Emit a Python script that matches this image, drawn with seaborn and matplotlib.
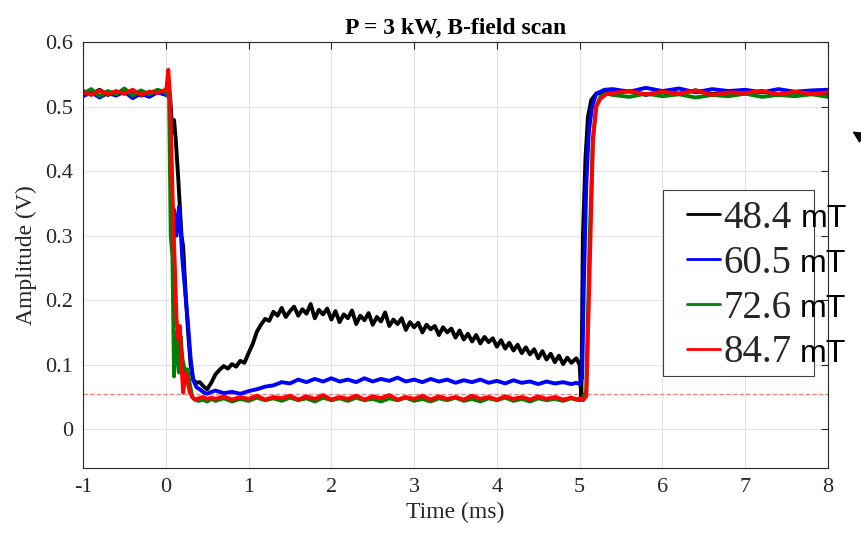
import matplotlib
matplotlib.use('Agg')
import pandas as pd
import matplotlib.pyplot as plt
from matplotlib.patches import Rectangle
from matplotlib.transforms import IdentityTransform
import seaborn as sns

# B-field values (mT) and colours
fields = ['48.4', '60.5', '72.6', '84.7']
colors = ['#000000', '#0000ff', '#008000', '#ff0000']

# shared time grids (ms)
t_pre = [-1.0, -0.9, -0.8, -0.7, -0.6, -0.5, -0.4, -0.3, -0.2, -0.1, 0.0]
t_mid = [0.6, 0.7, 0.8, 0.9, 1.0, 1.1, 1.2, 1.3, 1.4, 1.5, 1.6, 1.7, 1.8, 1.9,
         2.0, 2.1, 2.2, 2.3, 2.4, 2.5, 2.6, 2.7, 2.8, 2.9, 3.0, 3.1, 3.2, 3.3,
         3.4, 3.5, 3.6, 3.7, 3.8, 3.9, 4.0, 4.1, 4.2, 4.3, 4.4, 4.5, 4.6, 4.7,
         4.8, 4.9]
t_post = [5.4, 5.6, 5.8, 6.0, 6.2, 6.4, 6.6, 6.8, 7.0, 7.2, 7.4, 7.6, 7.8, 8.0]

# 48.4 mT
black_pre = [0.524, 0.519, 0.526, 0.518, 0.523, 0.520, 0.525, 0.517, 0.522, 0.524, 0.521]
black_t_drop = [0.05, 0.08, 0.10, 0.12, 0.15, 0.17, 0.19, 0.21, 0.24, 0.27, 0.30,
                0.33, 0.37, 0.41, 0.46, 0.50, 0.55]
black_drop = [0.52, 0.46, 0.479, 0.45, 0.39, 0.345, 0.30, 0.283, 0.21, 0.15, 0.10,
              0.077, 0.072, 0.073, 0.066, 0.062, 0.072]
black_t_mid = [0.60, 0.65, 0.70, 0.75, 0.80, 0.85, 0.90, 0.95, 1.00, 1.05, 1.10,
               1.15, 1.20, 1.25, 1.30, 1.35, 1.40, 1.45, 1.50, 1.55, 1.60, 1.65,
               1.70, 1.75, 1.80, 1.85, 1.90, 1.95, 2.00, 2.05, 2.10, 2.15, 2.20,
               2.25, 2.30, 2.35, 2.40, 2.45, 2.50, 2.55, 2.60, 2.65, 2.70, 2.75,
               2.80, 2.85, 2.90, 2.95, 3.00, 3.05, 3.10, 3.15, 3.20, 3.25, 3.30,
               3.35, 3.40, 3.45, 3.50, 3.55, 3.60, 3.65, 3.70, 3.75, 3.80, 3.85,
               3.90, 3.95, 4.00, 4.05, 4.10, 4.15, 4.20, 4.25, 4.30, 4.35, 4.40,
               4.45, 4.50, 4.55, 4.60, 4.65, 4.70, 4.75, 4.80, 4.85, 4.90]
black_mid = [0.085, 0.092, 0.098, 0.094, 0.101, 0.097, 0.106, 0.103, 0.118, 0.132, 0.151,
             0.162, 0.171, 0.168, 0.182, 0.176, 0.188, 0.174, 0.183, 0.190, 0.176, 0.186,
             0.179, 0.194, 0.172, 0.185, 0.178, 0.187, 0.170, 0.183, 0.166, 0.178, 0.172,
             0.184, 0.163, 0.176, 0.169, 0.180, 0.162, 0.174, 0.167, 0.181, 0.160, 0.170,
             0.163, 0.172, 0.154, 0.166, 0.158, 0.165, 0.150, 0.162, 0.155, 0.160, 0.146,
             0.158, 0.150, 0.156, 0.142, 0.153, 0.139, 0.148, 0.136, 0.146, 0.133, 0.143,
             0.135, 0.141, 0.128, 0.138, 0.125, 0.134, 0.122, 0.131, 0.118, 0.127, 0.116,
             0.124, 0.110, 0.121, 0.108, 0.117, 0.104, 0.114, 0.101, 0.111, 0.103]
black_t_rise = [4.96, 5.0, 5.02, 5.04, 5.07, 5.1, 5.14, 5.2, 5.3]
black_rise = [0.110, 0.100, 0.046, 0.300, 0.420, 0.484, 0.510, 0.520, 0.522]
black_post = [0.521, 0.524, 0.518, 0.523, 0.520, 0.525, 0.519, 0.522, 0.520,
              0.524, 0.518, 0.522, 0.521, 0.519]

# 60.5 mT
blue_pre = [0.516, 0.522, 0.514, 0.521, 0.517, 0.523, 0.513, 0.520, 0.515, 0.522, 0.518]
blue_t_drop = [0.05, 0.08, 0.10, 0.13, 0.16, 0.18, 0.20, 0.23, 0.27, 0.30, 0.33,
               0.37, 0.41, 0.46, 0.50, 0.55]
blue_drop = [0.515, 0.33, 0.34, 0.30, 0.345, 0.31, 0.263, 0.22, 0.16, 0.11, 0.077,
             0.065, 0.062, 0.057, 0.055, 0.058]
blue_mid = [0.060, 0.056, 0.058, 0.055, 0.059, 0.062, 0.066, 0.068, 0.073, 0.071,
            0.077, 0.073, 0.078, 0.074, 0.079, 0.074, 0.077, 0.073, 0.079, 0.074,
            0.078, 0.075, 0.080, 0.074, 0.077, 0.073, 0.078, 0.074, 0.077, 0.072,
            0.076, 0.073, 0.077, 0.072, 0.075, 0.071, 0.076, 0.072, 0.074, 0.070,
            0.074, 0.071, 0.073, 0.070]
blue_t_rise = [4.96, 5.0, 5.03, 5.05, 5.08, 5.11, 5.15, 5.2, 5.3]
blue_rise = [0.072, 0.070, 0.080, 0.221, 0.380, 0.460, 0.500, 0.520, 0.526]
blue_post = [0.527, 0.523, 0.529, 0.524, 0.528, 0.522, 0.527, 0.524, 0.526,
             0.522, 0.527, 0.523, 0.525, 0.526]

# 72.6 mT
green_pre = [0.520, 0.527, 0.516, 0.524, 0.519, 0.528, 0.517, 0.525, 0.519, 0.526, 0.522]
green_t_drop = [0.04, 0.06, 0.08, 0.10, 0.12, 0.14, 0.16, 0.18, 0.20, 0.23, 0.26,
                0.29, 0.32, 0.35, 0.40, 0.45, 0.50, 0.55]
green_drop = [0.515, 0.30, 0.268, 0.082, 0.15, 0.12, 0.088, 0.144, 0.11, 0.09, 0.093,
              0.07, 0.05, 0.046, 0.044, 0.046, 0.043, 0.047]
green_mid = [0.044, 0.048, 0.043, 0.047, 0.044, 0.049, 0.045, 0.048, 0.044, 0.049,
             0.045, 0.048, 0.043, 0.049, 0.045, 0.048, 0.044, 0.049, 0.045, 0.047,
             0.043, 0.048, 0.045, 0.049, 0.044, 0.047, 0.043, 0.048, 0.045, 0.049,
             0.044, 0.047, 0.043, 0.048, 0.045, 0.049, 0.044, 0.047, 0.043, 0.048,
             0.045, 0.047, 0.044, 0.048]
green_t_rise = [4.96, 5.0, 5.04, 5.08, 5.12, 5.16, 5.2, 5.25, 5.32]
green_rise = [0.046, 0.045, 0.048, 0.060, 0.290, 0.450, 0.500, 0.515, 0.520]
green_post = [0.518, 0.515, 0.520, 0.516, 0.519, 0.514, 0.518, 0.516, 0.520,
              0.515, 0.518, 0.516, 0.519, 0.515]

# 84.7 mT
red_pre = [0.522, 0.518, 0.525, 0.519, 0.524, 0.520, 0.526, 0.518, 0.523, 0.521, 0.526]
red_t_drop = [0.01, 0.03, 0.05, 0.07, 0.09, 0.11, 0.13, 0.15, 0.17, 0.19, 0.21,
              0.24, 0.27, 0.29, 0.32, 0.35, 0.40, 0.45, 0.50, 0.55]
red_drop = [0.53, 0.557, 0.52, 0.418, 0.325, 0.25, 0.17, 0.14, 0.16, 0.10, 0.057,
            0.088, 0.07, 0.057, 0.05, 0.046, 0.048, 0.05, 0.047, 0.049]
red_mid = [0.047, 0.051, 0.046, 0.050, 0.047, 0.052, 0.046, 0.050, 0.048, 0.052,
           0.046, 0.051, 0.047, 0.053, 0.046, 0.050, 0.047, 0.052, 0.046, 0.051,
           0.048, 0.053, 0.046, 0.050, 0.047, 0.052, 0.046, 0.051, 0.047, 0.050,
           0.046, 0.052, 0.047, 0.050, 0.046, 0.051, 0.047, 0.050, 0.046, 0.051,
           0.047, 0.050, 0.046, 0.049]
red_t_rise = [4.96, 5.0, 5.04, 5.08, 5.12, 5.16, 5.2, 5.25, 5.33]
red_rise = [0.046, 0.048, 0.045, 0.051, 0.243, 0.448, 0.500, 0.512, 0.520]
red_post = [0.521, 0.524, 0.519, 0.523, 0.520, 0.525, 0.518, 0.522, 0.521,
            0.524, 0.519, 0.523, 0.520, 0.522]

baseline_level = 0.054

series = [
    (black_pre, black_t_drop, black_drop, black_t_mid, black_mid, black_t_rise, black_rise, black_post),
    (blue_pre, blue_t_drop, blue_drop, t_mid, blue_mid, blue_t_rise, blue_rise, blue_post),
    (green_pre, green_t_drop, green_drop, t_mid, green_mid, green_t_rise, green_rise, green_post),
    (red_pre, red_t_drop, red_drop, t_mid, red_mid, red_t_rise, red_rise, red_post),
]

rows = []
for name, (pre, td, vd, tm, vm, tr, vr, post) in zip(fields, series):
    t = t_pre + td + tm + tr + t_post
    v = pre + vd + vm + vr + post
    assert len(t) == len(v), name
    for ti, vi in zip(t, v):
        rows.append({'time': ti, 'amp': vi, 'B': name})
df = pd.DataFrame(rows)

sns.set_theme(style='whitegrid')
plt.rcParams['font.family'] = ['Liberation Serif', 'DejaVu Serif']
plt.rcParams['axes.unicode_minus'] = False

fig = plt.figure(figsize=(8.61, 5.45), dpi=100)
ax = fig.add_axes([83 / 861, 1 - 468 / 545, 745 / 861, 426 / 545])

sns.lineplot(data=df, x='time', y='amp', hue='B', palette=dict(zip(fields, colors)),
             estimator=None, sort=False, lw=2.8, ax=ax)
ax.axhline(baseline_level, color='#f08080', ls='--', lw=0.9, zorder=1)

ax.set_xlim(-1, 8)
ax.set_ylim(-0.06, 0.6)
ax.set_xticks(range(-1, 9))
ax.set_xticklabels([str(v) for v in range(-1, 9)])
ax.set_yticks([0, 0.1, 0.2, 0.3, 0.4, 0.5, 0.6])
ax.set_yticklabels(['0', '0.1', '0.2', '0.3', '0.4', '0.5', '0.6'])
ax.tick_params(direction='in', top=True, right=True, length=5, width=0.8,
               color='#262626', labelsize=16, labelcolor='#262626', pad=7)
ax.grid(True, color='#e3e3e3', lw=0.8)
for s in ax.spines.values():
    s.set_color('#262626')
    s.set_linewidth(0.8)

ax.set_xlabel('Time (ms)', fontsize=17, color='#262626', labelpad=4)
ax.set_ylabel('Amplitude (V)', fontsize=17, color='#262626', labelpad=6)
ax.set_title('P = 3 kW, B-field scan', fontsize=17, fontweight='bold', pad=6, color='black')

handles, labels = ax.get_legend_handles_labels()
leg = ax.legend(handles, labels, loc='upper left', frameon=False, fontsize=28,
                bbox_to_anchor=(687 / 861, 1 - 200 / 545), bbox_transform=fig.transFigure,
                borderpad=0, borderaxespad=0, handlelength=0.85, handletextpad=0.08,
                labelspacing=0.2)
for h in leg.get_lines():
    h.set_linewidth(2.0)
leg.set_zorder(6)

# legend frame is narrower than the text, as in the original
fig.canvas.draw()
renderer = fig.canvas.get_renderer()
bb = leg.get_window_extent(renderer)
frame = Rectangle((bb.x0 - 24, bb.y0 - 5), bb.width + 24 + 23, bb.height + 15,
                  transform=IdentityTransform(), facecolor='white', edgecolor='#404040',
                  lw=0.8, zorder=5.5, clip_on=False)
ax.add_patch(frame)
for txt in leg.get_texts():
    tb = txt.get_window_extent(renderer)
    x, y = fig.transFigure.inverted().transform((tb.x1 + 9, (tb.y0 + tb.y1) / 2 - 1))
    fig.text(x, y, 'mT', fontsize=23, family=['Liberation Sans', 'DejaVu Sans'],
             va='center', ha='left', color='black')

# arrowhead poking in from the right edge
ax.annotate('', xy=(850, 545 - 130), xycoords='figure pixels',
            xytext=(885, 545 - 152), textcoords='figure pixels',
            arrowprops=dict(arrowstyle='-|>', color='black', lw=1, mutation_scale=18),
            annotation_clip=False)

fig.savefig('out.png', dpi=100)
